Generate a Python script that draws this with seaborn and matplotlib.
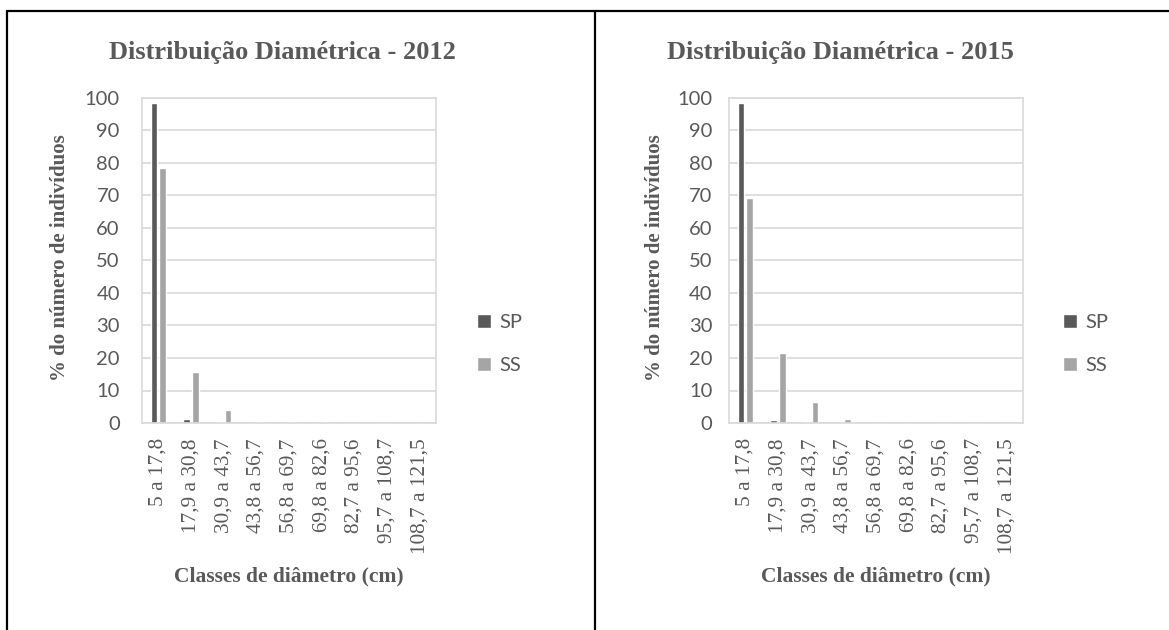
import matplotlib
matplotlib.use("Agg")
import matplotlib.pyplot as plt
from matplotlib.lines import Line2D
import seaborn as sns
import pandas as pd

# Diameter classes (cm)
classes = ["5 a 17,8", "17,9 a 30,8", "30,9 a 43,7", "43,8 a 56,7", "56,8 a 69,7",
           "69,8 a 82,6", "82,7 a 95,6", "95,7 a 108,7", "108,7 a 121,5"]
groups = ["SP", "SS"]

# % of individuals per class
sp_2012 = [98.4, 1.2, 0.2, 0.0, 0.0, 0.0, 0.0, 0.0, 0.0]
ss_2012 = [78.6, 15.6, 3.9, 0.3, 0.3, 0.3, 0.0, 0.0, 0.0]
sp_2015 = [98.4, 1.0, 0.2, 0.0, 0.0, 0.0, 0.0, 0.0, 0.0]
ss_2015 = [69.1, 21.6, 6.6, 1.1, 0.0, 0.6, 0.0, 0.0, 0.0]

titles = ["Distribuição Diamétrica - 2012", "Distribuição Diamétrica - 2015"]
y_label = "% do número de indivíduos"
x_label = "Classes de diâmetro (cm)"

TEXT = "#595959"
GRID = "#D9D9D9"
palette = {"SP": "#595959", "SS": "#A5A5A5"}
SERIF = "Liberation Serif"
SANS = "Lato"


def long_frame(sp, ss):
    return pd.DataFrame({
        "classe": classes * 2,
        "grupo": ["SP"] * len(classes) + ["SS"] * len(classes),
        "valor": list(sp) + list(ss),
    })


sns.set_theme(style="white")
plt.rcParams["font.family"] = [SANS, "DejaVu Sans"]
plt.rcParams["xtick.labelsize"] = 15.3

W, H = 1169, 630
fig = plt.figure(figsize=(W / 100, H / 100), dpi=100)
fig.patch.set_facecolor("white")

panels = [
    dict(data=long_frame(sp_2012, ss_2012), left=142, title_x=282, ylab_x=60,
         leg_x=477, ypad=16),
    dict(data=long_frame(sp_2015, ss_2015), left=729, title_x=840, ylab_x=655,
         leg_x=1063, ypad=12),
]

ax_w, top_px, bot_px = 294, 98, 423
for p, title in zip(panels, titles):
    ax = fig.add_axes([p["left"] / W, 1 - bot_px / H, ax_w / W, (bot_px - top_px) / H])
    sns.barplot(data=p["data"], x="classe", y="valor", hue="grupo",
                hue_order=groups, palette=palette, order=classes,
                width=0.52, gap=0.2, saturation=1, ax=ax, legend=True)
    ax.set_ylim(0, 100)
    ax.set_xlim(-0.5, len(classes) - 0.5)
    ax.set_yticks(range(0, 101, 10))
    ax.set_xticks(range(len(classes)))
    ax.set_xticklabels(classes)
    ax.yaxis.grid(True, color=GRID, linewidth=1.2)
    ax.set_axisbelow(True)
    for s in ax.spines.values():
        s.set_visible(True)
        s.set_color(GRID)
        s.set_linewidth(1.2)
    ax.tick_params(axis="y", length=0, pad=p["ypad"], labelsize=14.5, labelcolor=TEXT)
    ax.tick_params(axis="x", length=0, pad=11, labelcolor=TEXT, labelrotation=90,
                   labelsize=15.3, labelfontfamily=SERIF)
    ax.set_xlabel(x_label, family=SERIF, fontweight="bold", fontsize=15.5,
                  color=TEXT, labelpad=9)
    ax.set_ylabel("")

    handles, labels = ax.get_legend_handles_labels()
    ax.legend(handles, labels, loc="center left",
              bbox_to_anchor=(p["leg_x"] / W, 1 - 344 / H),
              bbox_transform=fig.transFigure, frameon=False, fontsize=14.5,
              labelcolor=TEXT, handlelength=0.7, handleheight=0.7,
              handletextpad=0.4, labelspacing=1.3, borderpad=0, borderaxespad=0)

    fig.text(p["title_x"] / W, 1 - 52 / H, title, family=SERIF, fontweight="bold",
             fontsize=19, color=TEXT, ha="center", va="center")
    fig.text(p["ylab_x"] / W, 1 - 258 / H, y_label, family=SERIF, fontweight="bold",
             fontsize=15, color=TEXT, ha="center", va="center", rotation=90)

# Table frame around the two charts
frame = dict(color="black", linewidth=1.6, transform=fig.transFigure)
fig.add_artist(Line2D([7 / W, 1], [1 - 11 / H, 1 - 11 / H], **frame))
fig.add_artist(Line2D([7 / W, 7 / W], [0, 1 - 11 / H], **frame))
fig.add_artist(Line2D([595 / W, 595 / W], [0, 1 - 11 / H], **frame))

fig.savefig("out.png", dpi=100, facecolor="white")
